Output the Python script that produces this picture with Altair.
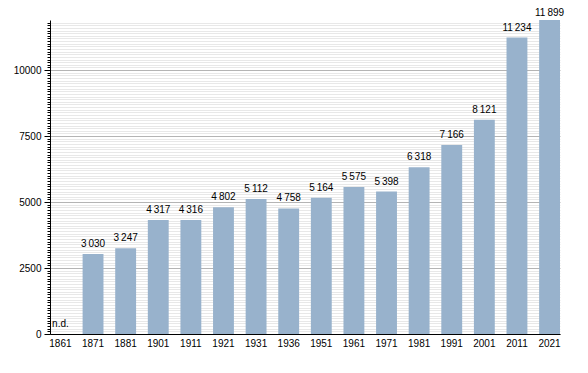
import altair as alt
import pandas as pd

years = ["1861", "1871", "1881", "1901", "1911", "1921", "1931", "1936", "1951",
         "1961", "1971", "1981", "1991", "2001", "2011", "2021"]
population = [None, 3030, 3247, 4317, 4316, 4802, 5112, 4758, 5164,
              5575, 5398, 6318, 7166, 8121, 11234, 11899]

labels = ["n.d." if v is None else f"{v:,}".replace(",", "\u2009") for v in population]
df = pd.DataFrame({"year": years, "pop": population, "label": labels})
df["labely"] = df["pop"].fillna(0)

FONT = "Liberation Sans"
tick_vals = list(range(0, 11900, 100))

x = alt.X("year:N", sort=years, title=None,
          scale=alt.Scale(paddingInner=0.36, paddingOuter=0),
          axis=alt.Axis(labelAngle=0, ticks=False, domainColor="black",
                        labelFont=FONT, labelFontSize=10, labelColor="black",
                        labelPadding=4, grid=False))

yscale = alt.Scale(domain=[0, 11900], nice=False)

yaxis = alt.Axis(values=tick_vals, tickCount=500, format="d", labelOverlap=False,
                 labelExpr="datum.value % 2500 === 0 ? datum.label : ''",
                 labelFont=FONT, labelFontSize=10, labelColor="black",
                 domainColor="black", tickColor="black",
                 tickSize={"condition": {"test": "datum.value % 2500 === 0", "value": 6}, "value": 3},
                 gridColor={"condition": {"test": "datum.value % 2500 === 0", "value": "#b4b4b4"}, "value": "#e8e8e8"},
                 gridWidth=1, labelPadding=3)

bars = alt.Chart(df).mark_bar(color="#98b2cc").encode(
    x=x,
    y=alt.Y("pop:Q", scale=yscale, title=None, axis=yaxis),
)

max_pop = max(v for v in population if v is not None)

text = alt.Chart(df).transform_filter(f"datum.labely < {max_pop}").mark_text(
    baseline="bottom", dy=-5, font=FONT, fontSize=10, color="black").encode(
    x=alt.X("year:N", sort=years),
    y=alt.Y("labely:Q", scale=yscale),
    text="label:N",
)

text_top = alt.Chart(df).transform_filter(f"datum.labely >= {max_pop}").mark_text(
    baseline="bottom", dy=-2.5, font=FONT, fontSize=10, color="black").encode(
    x=alt.X("year:N", sort=years),
    y=alt.Y("labely:Q", scale=yscale),
    text="label:N",
)

chart = alt.layer(bars, text, text_top).properties(
    width=510, height=314,
    autosize=alt.AutoSizeParams(type="none"),
    padding={"left": 42, "top": 12, "right": 10, "bottom": 20},
).configure_view(stroke=None)

chart.save("out.html", embed_options={"renderer": "svg", "actions": False})
